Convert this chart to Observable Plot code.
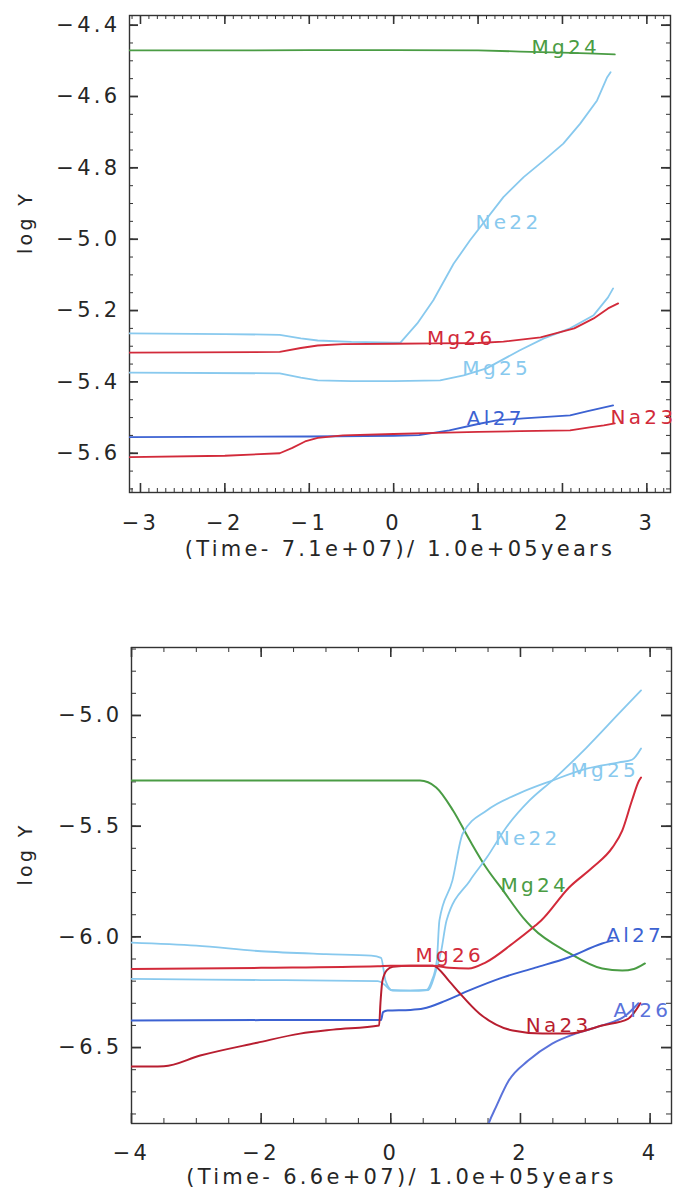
<!DOCTYPE html>
<html><head><meta charset="utf-8">
<script src="https://cdn.jsdelivr.net/npm/d3@7"></script>
<script src="https://cdn.jsdelivr.net/npm/@observablehq/plot@0.6"></script>
<style>
html,body{margin:0;padding:0;background:#fff;}
#wrap{position:relative;width:676px;height:1201px;overflow:hidden;background:#fff;}
#topPanel,#botPanel{position:absolute;left:0;}
#topPanel{top:0;} #botPanel{top:600px;}
</style></head>
<body><div id="wrap"><div id="topPanel"></div><div id="botPanel"></div></div>
<script>
// ---------- colours ----------
const cGreen = "#4a9c44", cCyan = "#88c9ee", cRed = "#d22a3a", cDarkRed = "#b81e30", cBlue = "#3c62d2", cBlue2 = "#5a72da";

// ---------- TOP PANEL DATA ----------
const topXTicks = [-3, -2, -1, 0, 1, 2, 3];
const topYTicks = [-5.6, -5.4, -5.2, -5.0, -4.8, -4.6, -4.4];
const topXTitle = "(Time- 7.1e+07)/ 1.0e+05years";

const tMg24X = [-3.13, -2, -1, 0, 1.0, 1.5, 2.0, 2.3, 2.62];
const tMg24Y = [-4.471, -4.471, -4.470, -4.470, -4.471, -4.474, -4.477, -4.479, -4.482];

const tNe22X = [-3.13, -2, -1.35, -1.1, -0.9, -0.5, 0, 0.08, 0.28, 0.47, 0.71, 0.905, 1.30, 1.54, 1.78, 2.01, 2.21, 2.41, 2.53, 2.57];
const tNe22Y = [-5.264, -5.266, -5.268, -5.278, -5.284, -5.288, -5.290, -5.290, -5.236, -5.171, -5.069, -5.003, -4.882, -4.826, -4.779, -4.732, -4.676, -4.611, -4.546, -4.532];

const tMg26X = [-3.13, -1.35, -1.1, -0.9, -0.6, 0, 0.5, 1.0, 1.3, 1.74, 2.14, 2.37, 2.54, 2.66];
const tMg26Y = [-5.318, -5.316, -5.305, -5.298, -5.294, -5.293, -5.292, -5.291, -5.287, -5.275, -5.25, -5.222, -5.194, -5.18];

const tMg25X = [-3.13, -1.35, -1.1, -0.9, -0.5, 0, 0.55, 0.83, 1.10, 1.49, 1.78, 2.09, 2.37, 2.54, 2.6];
const tMg25Y = [-5.374, -5.376, -5.388, -5.396, -5.398, -5.398, -5.396, -5.382, -5.362, -5.312, -5.278, -5.25, -5.213, -5.163, -5.138];

const tAl27X = [-3.13, -1, 0, 0.3, 0.66, 1.0, 1.22, 1.54, 2.09, 2.3, 2.6];
const tAl27Y = [-5.555, -5.553, -5.551, -5.549, -5.536, -5.518, -5.508, -5.502, -5.494, -5.482, -5.466];

const tNa23X = [-3.13, -2, -1.35, -1.2, -1.05, -0.9, -0.6, 0, 0.5, 1.0, 1.5, 2.09, 2.34, 2.49, 2.62];
const tNa23Y = [-5.611, -5.607, -5.600, -5.585, -5.567, -5.557, -5.550, -5.546, -5.543, -5.540, -5.538, -5.536, -5.527, -5.522, -5.516];

const topLabelNames = ["Mg24", "Ne22", "Mg26", "Mg25", "Al27", "Na23"];
const topLabelX = [2.04, 1.36, 0.8, 1.22, 1.21, 2.96];
const topLabelY = [-4.463, -4.953, -5.278, -5.362, -5.502, -5.499];
const topLabelColors = [cGreen, cCyan, cRed, cCyan, cBlue, cRed];

// ---------- BOTTOM PANEL DATA ----------
const botXTicks = [-4, -2, 0, 2, 4];
const botYTicks = [-6.5, -6.0, -5.5, -5.0];
const botXTitle = "(Time- 6.6e+07)/ 1.0e+05years";

const bMg24X = [-4, -2, 0, 0.45, 0.7, 0.96, 1.22, 1.47, 1.73, 2.04, 2.18, 2.74, 3.26, 3.57, 3.75, 3.92];
const bMg24Y = [-5.294, -5.294, -5.294, -5.294, -5.325, -5.429, -5.565, -5.687, -5.79, -5.913, -5.958, -6.071, -6.143, -6.152, -6.145, -6.12];

const bNe22X = [-4, -3, -2, -1, -0.3, -0.15, -0.08, 0.03, 0.3, 0.58, 0.68, 0.78, 0.86, 1.22, 1.48, 1.78, 2.14, 2.49, 3.02, 3.52, 3.86];
const bNe22Y = [-6.026, -6.04, -6.065, -6.078, -6.085, -6.095, -6.2, -6.243, -6.243, -6.24, -6.17, -6.06, -5.926, -5.746, -5.642, -5.506, -5.384, -5.294, -5.145, -4.991, -4.887];

const bMg25X = [-4, -2, -0.2, -0.1, 0.0, 0.3, 0.55, 0.63, 0.71, 0.75, 0.95, 1.11, 1.48, 1.98, 2.49, 3.02, 3.52, 3.72, 3.86];
const bMg25Y = [-6.19, -6.195, -6.20, -6.215, -6.24, -6.243, -6.24, -6.2, -6.107, -5.926, -5.746, -5.533, -5.429, -5.352, -5.294, -5.24, -5.212, -5.2, -5.149];

const bMg26X = [-4, -2, -0.2, 0.0, 0.3, 0.65, 0.9, 1.2, 1.46, 1.88, 2.23, 2.32, 2.75, 3.11, 3.42, 3.57, 3.72, 3.83, 3.86];
const bMg26Y = [-6.145, -6.14, -6.133, -6.13, -6.13, -6.13, -6.14, -6.143, -6.116, -6.03, -5.949, -5.926, -5.777, -5.687, -5.596, -5.52, -5.384, -5.294, -5.28];

const bNa23X = [-4, -3.5, -2.94, -2.06, -1.4, -0.89, -0.18, -0.16, -0.13, -0.06, 0.03, 0.3, 0.65, 0.9, 1.05, 1.37, 1.88, 2.34, 2.74, 3.26, 3.66, 3.85];
const bNa23Y = [-6.586, -6.584, -6.536, -6.478, -6.437, -6.419, -6.40, -6.30, -6.20, -6.15, -6.135, -6.13, -6.13, -6.20, -6.25, -6.347, -6.423, -6.437, -6.437, -6.40, -6.37, -6.30];

const bAl27X = [-4, -2, -0.15, -0.12, -0.05, 0.3, 0.5, 0.85, 1.2, 1.72, 2.23, 2.74, 3.26, 3.42];
const bAl27Y = [-6.378, -6.376, -6.375, -6.34, -6.333, -6.33, -6.324, -6.288, -6.243, -6.184, -6.139, -6.093, -6.03, -6.017];

const bAl26X = [1.45, 1.51, 1.62, 1.82, 2.12, 2.49, 2.85, 3.26, 3.62, 3.82];
const bAl26Y = [-6.9, -6.843, -6.77, -6.649, -6.559, -6.482, -6.437, -6.40, -6.356, -6.30];

const botLabelNames = ["Mg25", "Ne22", "Mg24", "Mg26", "Na23", "Al27", "Al26"];
const botLabelX = [3.3, 2.11, 2.22, 0.91, 2.59, 3.77, 3.88];
const botLabelY = [-5.249, -5.556, -5.768, -6.085, -6.40, -5.994, -6.333];
const botLabelColors = [cCyan, cCyan, cGreen, cRed, cDarkRed, cBlue, cBlue2];

// ---------- helpers ----------
const rows = (xs, ys) => xs.map((x, i) => ({x, y: ys[i]}));
const labelRows = (n, xs, ys, cs) => n.map((t, i) => ({t, x: xs[i], y: ys[i], c: cs[i]}));

function panel(o) {
  const W = 676;
  const innerW = W - o.ml - o.mr, innerH = o.height - o.mt - o.mb;
  const ax = {stroke: "#333"};
  const ink = "#262626";
  const marks = [
    Plot.tickX(o.xMinor, {x: d => d, insetTop: innerH - o.minLen, ...ax}),
    Plot.tickX(o.xMinor, {x: d => d, insetBottom: innerH - o.minLen, ...ax}),
    Plot.tickX(o.xMajor, {x: d => d, insetTop: innerH - o.majLen, strokeWidth: 1.6, ...ax}),
    Plot.tickX(o.xMajor, {x: d => d, insetBottom: innerH - o.majLen, strokeWidth: 1.6, ...ax}),
    Plot.tickY(o.yMinor, {y: d => d, insetRight: innerW - o.minLen, ...ax}),
    Plot.tickY(o.yMinor, {y: d => d, insetLeft: innerW - o.minLen, ...ax}),
    Plot.tickY(o.yMajor, {y: d => d, insetRight: innerW - o.majLen, strokeWidth: 1.8, ...ax}),
    Plot.tickY(o.yMajor, {y: d => d, insetLeft: innerW - o.majLen, strokeWidth: 1.8, ...ax}),
    Plot.frame({stroke: "#333", strokeWidth: 1.4}),
    ...o.series.map(s => Plot.line(rows(s.x, s.y), {x: "x", y: "y", stroke: s.c, strokeWidth: s.w || 1.8, curve: o.curve, clip: true})),
    Plot.text(o.labels, {x: "x", y: "y", text: "t", fill: "c", fontSize: 20}),
    Plot.axisX(o.xMajor, {anchor: "bottom", tickSize: 0, tickPadding: o.xPad, tickFormat: o.xFmt, fontSize: 21, fill: ink, label: null}),
    Plot.axisY(o.yMajor, {anchor: "left", tickSize: 0, tickPadding: 9, tickFormat: o.yFmt, fontSize: 21, fill: ink, label: null}),
    Plot.text([o.xTitle], {text: d => d, frameAnchor: "bottom", dy: o.titleDy, fontSize: 21, fill: ink}),
    Plot.text(["log Y"], {text: d => d, frameAnchor: "left", rotate: -90, dx: o.logDx, fontSize: 19, fill: ink})
  ];
  return Plot.plot({
    width: W, height: o.height,
    marginTop: o.mt, marginBottom: o.mb, marginLeft: o.ml, marginRight: o.mr,
    x: {domain: o.xDomain},
    y: {domain: o.yDomain},
    style: {fontFamily: "'DejaVu Sans', sans-serif", letterSpacing: "3.3px", background: "#fff", overflow: "visible"},
    marks
  });
}

const topChart = panel({
  height: 600, mt: 15, mb: 108, ml: 129, mr: 6,
  xDomain: [-3.13, 3.28], yDomain: [-5.71, -4.373],
  xMajor: topXTicks, xMinor: d3.range(-31, 33).map(d => d / 10),
  yMajor: topYTicks, yMinor: d3.range(-114, -87).map(d => d / 20),
  majLen: 9, minLen: 4,
  xFmt: d3.format("d"), yFmt: d3.format(".1f"),
  xPad: 23, titleDy: 63, logDx: -104, curve: "linear",
  series: [
    {x: tMg24X, y: tMg24Y, c: cGreen},
    {x: tNe22X, y: tNe22Y, c: cCyan},
    {x: tMg25X, y: tMg25Y, c: cCyan},
    {x: tMg26X, y: tMg26Y, c: cRed},
    {x: tAl27X, y: tAl27Y, c: cBlue},
    {x: tNa23X, y: tNa23Y, c: cRed}
  ],
  labels: labelRows(topLabelNames, topLabelX, topLabelY, topLabelColors),
  xTitle: topXTitle
});
document.getElementById("topPanel").append(topChart);

const botChart = panel({
  height: 601, mt: 47, mb: 78, ml: 131, mr: 5,
  xDomain: [-4, 4.33], yDomain: [-6.843, -4.693],
  xMajor: botXTicks, xMinor: d3.range(-8, 9).map(d => d / 2),
  yMajor: botYTicks, yMinor: d3.range(-68, -46).map(d => d / 10),
  majLen: 10, minLen: 5,
  xFmt: d3.format("d"), yFmt: d3.format(".1f"),
  xPad: 22, titleDy: 60, logDx: -106, curve: "monotone-x",
  series: [
    {x: bMg24X, y: bMg24Y, c: cGreen, w: 2},
    {x: bNe22X, y: bNe22Y, c: cCyan},
    {x: bMg25X, y: bMg25Y, c: cCyan},
    {x: bAl27X, y: bAl27Y, c: cBlue, w: 2},
    {x: bAl26X, y: bAl26Y, c: cBlue2, w: 2},
    {x: bNa23X, y: bNa23Y, c: cDarkRed, w: 2},
    {x: bMg26X, y: bMg26Y, c: cRed, w: 2}
  ],
  labels: labelRows(botLabelNames, botLabelX, botLabelY, botLabelColors),
  xTitle: botXTitle
});
document.getElementById("botPanel").append(botChart);
</script>
</body></html>
